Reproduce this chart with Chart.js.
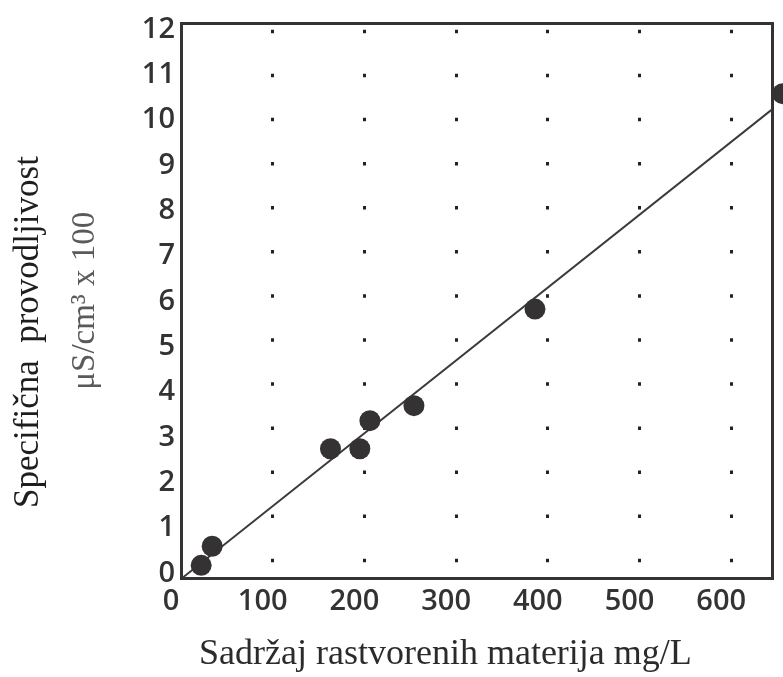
<!DOCTYPE html>
<html>
<head>
<meta charset="utf-8">
<script src="https://cdn.jsdelivr.net/npm/chart.js@4"></script>
<style>
    body { margin: 0; background: #ffffff; }
    canvas { display: block; }
</style>
</head>
<body>
<canvas id="grafico" width="783" height="677"></canvas>
<script>
// measured points (x = mg/L, y = µS/cm x 100)
const xValues = [22, 34, 163, 195, 206, 254, 386, 656];
const yValues = [0.18, 0.60, 2.75, 2.75, 3.37, 3.70, 5.83, 10.58];
// fitted line, two ends
const fitX = [0, 645];
const fitY = [-0.12, 10.24];
// axis ticks
const xTicks = [0, 100, 200, 300, 400, 500, 600];
const yTicks = [0, 1, 2, 3, 4, 5, 6, 7, 8, 9, 10, 11, 12];

const tamna = '#353233';
const tickFont = { family: 'Open Sans', size: 29, weight: 600 };

const ctx = document.getElementById('grafico').getContext('2d');
const grafico = new Chart(ctx, {
    type: 'scatter',
    data: {
        datasets: [{
            label: 'Mjerenja',
            data: xValues.map((x, i) => ({ x: x, y: yValues[i] })),
            backgroundColor: tamna,
            borderWidth: 0,
            pointRadius: 10.5,
            clip: false
        },
        {
            label: 'Prava',
            data: fitX.map((x, i) => ({ x: x, y: fitY[i] })),
            showLine: true,
            borderColor: '#3a3a3a',
            borderWidth: 2,
            pointRadius: 0
        }]
    },
    options: {
        responsive: false,
        animation: false,
        devicePixelRatio: 1,
        layout: {
            padding: { top: 21, right: 7, bottom: 0, left: 0 }
        },
        plugins: {
            legend: { display: false },
            tooltip: { enabled: false }
        },
        scales: {
            x: {
                type: 'linear',
                position: 'bottom',
                min: 0,
                max: 645,
                afterBuildTicks: (scale) => { scale.ticks = xTicks.map(v => ({ value: v })); },
                afterFit: (scale) => { scale.height = 99; },
                grid: {
                    drawTicks: false,
                    color: (c) => c.tick && c.tick.value === 0 ? 'rgba(0,0,0,0)' : '#222',
                    lineWidth: 3
                },
                // in v4 the dash of the grid lines lives under border
                border: { display: true, color: tamna, width: 3, dash: [3.5, 40.58], dashOffset: 37.8 },
                ticks: {
                    font: tickFont,
                    color: '#333333',
                    padding: 6,
                    labelOffset: -10,
                    maxRotation: 0
                },
                title: {
                    display: true,
                    align: 'start',
                    text: '  Sadržaj rastvorenih materija mg/L',
                    font: { family: 'Liberation Serif', size: 36, lineHeight: 1 },
                    color: '#2b2b2b',
                    padding: { top: 0, bottom: 4 }
                }
            },
            xt: {
                type: 'linear',
                position: 'top',
                min: 0,
                max: 645,
                grid: { display: false, drawTicks: false },
                ticks: { display: false },
                border: { display: true, color: tamna, width: 3 }
            },
            y: {
                type: 'linear',
                position: 'left',
                min: -0.1,
                max: 12.13,
                afterBuildTicks: (scale) => { scale.ticks = yTicks.map(v => ({ value: v })); },
                afterFit: (scale) => { scale.width = 126; },
                grid: { display: false, drawTicks: false },
                border: { display: true, color: tamna, width: 3 },
                ticks: {
                    font: tickFont,
                    color: '#333333',
                    padding: 6
                },
                title: {
                    display: true,
                    text: 'μS/cm³ x 100',
                    font: { family: 'Liberation Serif', size: 33, lineHeight: 1 },
                    color: '#5a5a5a',
                    padding: { top: 13.5, bottom: 0 }
                }
            },
            yt: {
                type: 'linear',
                position: 'left',
                weight: 1,
                afterFit: (scale) => { scale.width = 55; },
                grid: { display: false, drawTicks: false },
                ticks: { display: false },
                border: { display: false },
                title: {
                    display: true,
                    align: 'start',
                    text: ' '.repeat(8) + 'Specifična  provodljivost',
                    font: { family: 'Liberation Serif', size: 35, lineHeight: 1 },
                    color: '#1e1e1e',
                    padding: { top: 11, bottom: 9 }
                }
            },
            yr: {
                type: 'linear',
                position: 'right',
                min: -0.1,
                max: 12.13,
                grid: { display: false, drawTicks: false },
                ticks: { display: false },
                border: { display: true, color: tamna, width: 3 }
            }
        }
    }
});
</script>
</body>
</html>
